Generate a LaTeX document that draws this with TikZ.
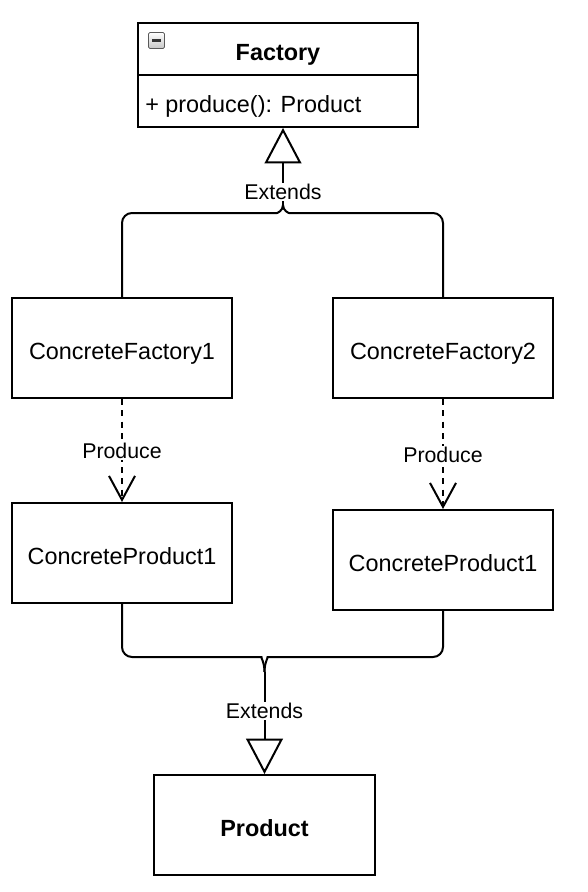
\documentclass[tikz,border=0pt]{standalone}
\usepackage{fontspec}
\setmainfont{Liberation Sans}
\usetikzlibrary{arrows.meta,calc}
\begin{document}
\begin{tikzpicture}[x=0.75pt,y=-0.75pt,
  box/.style={draw,line width=1.5pt,minimum width=165pt,minimum height=75pt,inner sep=0pt,font=\fontsize{17.55}{21}\selectfont},
  boxtext/.style={text height=17.6pt,text depth=0pt},
  conn/.style={line width=1.5pt},
  lbl/.style={fill=white,inner sep=1pt,font=\fontsize{16}{19}\selectfont},
  ext/.style={conn,-{Triangle[open,length=26.5pt,width=27.5pt,line width=1.5pt]}},
  prod/.style={conn,dash pattern=on 4.5pt off 4pt,-{Straight Barb[length=18pt,width=19.5pt,line width=1.5pt]}}]
\useasboundingbox (0,0) rectangle (588,892);
% Factory class
\node[draw,line width=1.5pt,minimum width=210pt,minimum height=78pt,inner sep=0pt] (factory) at (278,75) {};
\draw[line width=1.5pt] (factory.west) -- (factory.east);
\node[font=\fontsize{17.55}{21}\selectfont\bfseries,boxtext] (ftitle) at (278,49) {Factory};
\node[font=\fontsize{17.55}{21}\selectfont,anchor=west,inner sep=0pt,boxtext] (fop) at (145,101) {+ produce(): Product};
\node[draw=gray!70!black,line width=0.5pt,rounded corners=1pt,top color=white,bottom color=gray!45,minimum size=12pt,inner sep=0pt] (icon) at (156.5,40.5) {};
\draw[line width=2pt,black!80] ($(icon.center)+(-4.5,0)$) -- ($(icon.center)+(4.5,0)$);
% boxes
\node[box,boxtext] (cf1) at (122,348) {ConcreteFactory1};
\node[box,boxtext] (cf2) at (443,348) {ConcreteFactory2};
\node[box,boxtext] (cpl) at (122,553) {ConcreteProduct1};
\node[box,boxtext] (cpr) at (443,560) {ConcreteProduct1};
\node[box,boxtext,minimum width=165.75pt,font=\fontsize{17.55}{21}\selectfont\bfseries] (product) at (264.5,825) {Product};
% top extends
\coordinate (jt) at (283,205);
\draw[conn] (cf1.north) [rounded corners=7.5pt] |- ($(jt)+(-16,8)$) [sharp corners] .. controls ($(jt)+(-6,8)$) and ($(jt)+(0,6)$) .. (jt);
\draw[conn] (cf2.north) [rounded corners=7.5pt] |- ($(jt)+(16,8)$) [sharp corners] .. controls ($(jt)+(6,8)$) and ($(jt)+(0,6)$) .. (jt);
\draw[ext] (jt) -- (jt |- factory.south);
\node[lbl] (lt) at (283,192) {Extends};
% produce
\draw[prod] (cf1.south) -- (cpl.north);
\node[lbl] (lp1) at (122,451) {Produce};
\draw[prod] (cf2.south) -- (cpr.north);
\node[lbl] (lp2) at (443,455) {Produce};
% bottom extends
\coordinate (jb) at (264.5,672);
\draw[conn] (cpl.south) [rounded corners=7.5pt] |- ($(jb)+(-13,-15)$) [sharp corners] .. controls ($(jb)+(-4,-15)$) and ($(jb)+(0,-10)$) .. (jb);
\draw[conn] (cpr.south) [rounded corners=7.5pt] |- ($(jb)+(13,-15)$) [sharp corners] .. controls ($(jb)+(4,-15)$) and ($(jb)+(0,-10)$) .. (jb);
\draw[ext] (jb) -- (product.north);
\node[lbl] (lb) at (264.5,711) {Extends};
\end{tikzpicture}
\end{document}
